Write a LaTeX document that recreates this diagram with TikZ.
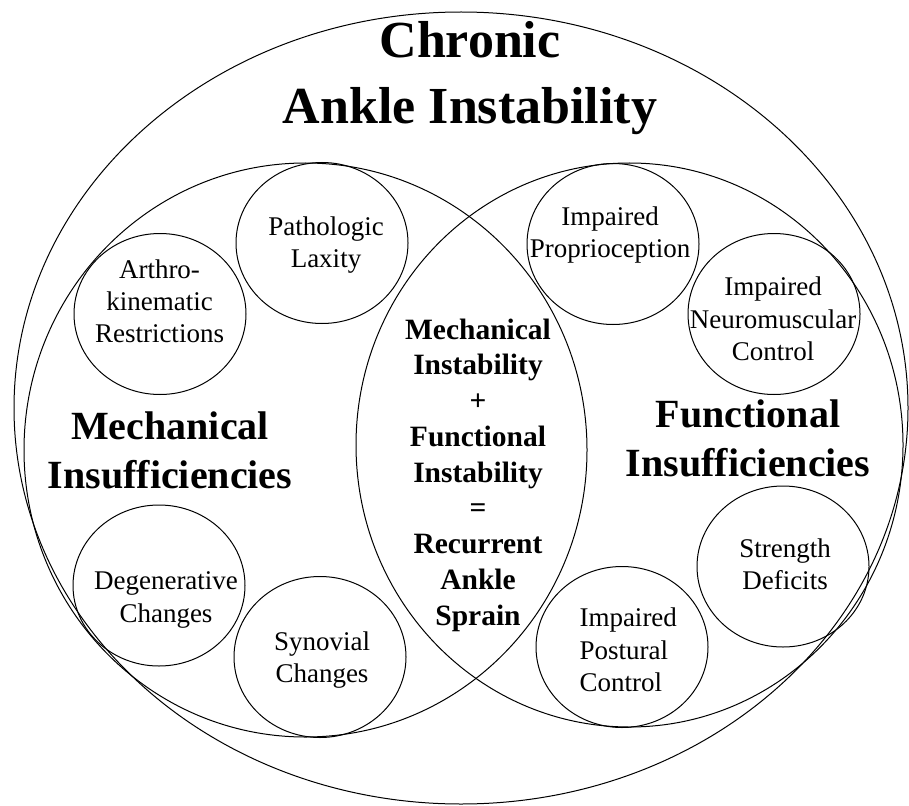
\documentclass[tikz,border=0pt]{standalone}
\usepackage{fontspec}
\setmainfont{Liberation Serif}
\usetikzlibrary{shapes.geometric}

\begin{document}
\begin{tikzpicture}[x=1pt,y=-1pt,line width=1pt]
  \tikzstyle{bubble}=[draw, ellipse, minimum width=172pt, minimum height=161pt, inner sep=0pt]
  \tikzstyle{note}=[align=center, inner sep=0pt, font=\fontsize{27}{32.3}\selectfont]
  \tikzstyle{sum}=[align=center, inner sep=0pt, font=\bfseries\fontsize{29.5}{35.75}\selectfont]
  \tikzstyle{side}=[align=center, inner sep=0pt, font=\bfseries\fontsize{40}{49}\selectfont]
  \tikzstyle{head}=[align=center, inner sep=0pt, font=\bfseries\fontsize{52}{66}\selectfont]

  \useasboundingbox (0,0) rectangle (909,805);

  % outer ring and the two overlapping sets
  \draw (461,408) ellipse [x radius=447pt, y radius=396pt];
  \draw (305.5,450) ellipse [x radius=281.5pt, y radius=287pt];
  \draw (629.5,445) ellipse [x radius=273.5pt, y radius=282pt];

  \node[head] (title) at (470,78) {Chronic\\Ankle Instability};
  \node[side] (mech) at (170,450) {Mechanical\\Insufficiencies};
  \node[side] (func) at (748,438.5) {Functional\\Insufficiencies};
  \node[sum]  (both) at (478,475) {Mechanical\\Instability\\+\\Functional\\Instability\\=\\Recurrent\\Ankle\\Sprain};

  % mechanical side
  \node[bubble] (laxity) at (322,243) {};
  \node[note]   (laxity-t) at (326,245) {Pathologic\\Laxity};
  \node[bubble] (arthro) at (160,314) {};
  \node[note]   (arthro-t) at (159.5,301.3) {Arthro-\\kinematic\\Restrictions};
  \node[bubble] (degen) at (159,585.5) {};
  \node[note]   (degen-t) at (166,600) {Degenerative\\Changes};
  \node[bubble] (synov) at (320,657) {};
  \node[note]   (synov-t) at (322,660) {Synovial\\Changes};

  % functional side
  \node[bubble] (propr) at (613,244) {};
  \node[note]   (propr-t) at (610,235) {Impaired\\Proprioception};
  \node[bubble] (neuro) at (774,314) {};
  \node[note]   (neuro-t) at (773,319) {Impaired\\Neuromuscular\\Control};
  \node[bubble] (strength) at (783,566.5) {};
  \node[note]   (strength-t) at (785,564) {Strength\\Deficits};
  \node[bubble] (postural) at (622,647) {};
  \node[note, align=left, anchor=west] (postural-t) at (579,650) {Impaired\\Postural\\Control};
\end{tikzpicture}
\end{document}
